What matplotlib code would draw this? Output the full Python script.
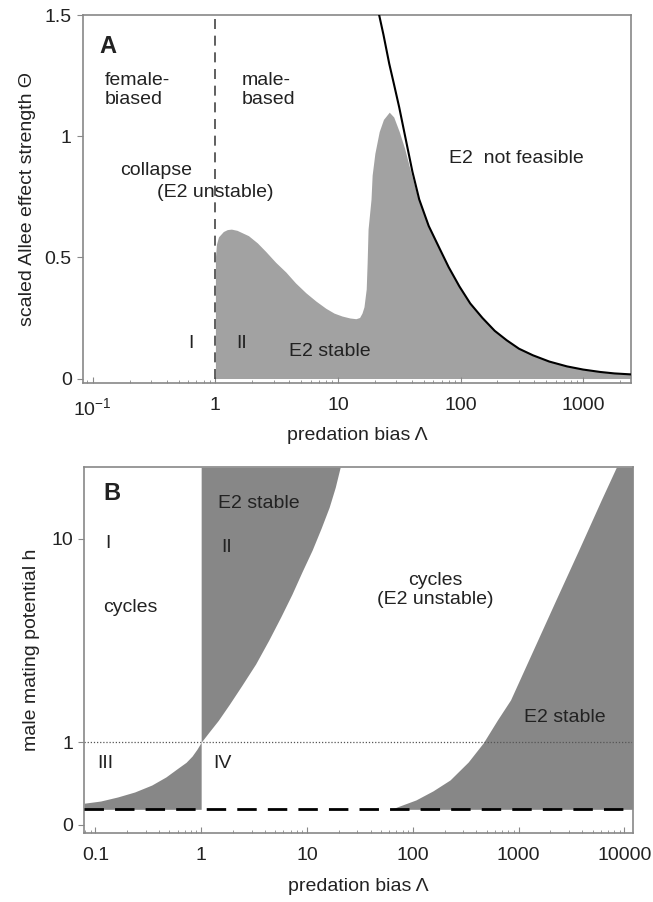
import numpy as np
import matplotlib
matplotlib.use('Agg')
import matplotlib.pyplot as plt

plt.rcParams['font.family'] = ['Liberation Sans', 'DejaVu Sans']
plt.rcParams['mathtext.fontset'] = 'custom'
plt.rcParams['mathtext.rm'] = 'Liberation Sans'
plt.rcParams['font.size'] = 14

# ---- panel A data ----
# upper edge of the "E2 stable" region (hump part)
hump_lam = [1.0, 1.02, 1.06, 1.16, 1.25, 1.35, 1.5, 1.86, 2.2, 2.57, 3.1, 3.75,
            4.5, 5.47, 6.6, 7.96, 9.3, 10.8, 12.5, 14.0, 15.0, 15.7, 16.3,
            17.0, 17.3, 17.6, 18.6, 19.0, 20.0, 21.7, 23.5, 26.2, 28.5, 31.6,
            35.0, 38.0, 42.0, 45.0]
hump_val = [0.50, 0.555, 0.585, 0.607, 0.615, 0.617, 0.612, 0.59, 0.56, 0.525,
            0.48, 0.44, 0.395, 0.354, 0.32, 0.29, 0.27, 0.258, 0.25, 0.247,
            0.252, 0.27, 0.296, 0.37, 0.48, 0.617, 0.74, 0.84, 0.93, 1.02,
            1.07, 1.10, 1.08, 1.02, 0.95, 0.88, 0.80, 0.745]
# feasibility limit (black curve)
feas_lam = [21.7, 23.5, 26.2, 28.5, 31.6, 35.0, 40.5, 46.0, 50.7, 55.0, 67.0,
            80.0, 98.0, 120.0, 151.0, 190.0, 238.0, 300.0, 389.0, 530.0,
            739.0, 1000.0, 1380.0, 1800.0, 2450.0]
feas_val = [1.5, 1.42, 1.30, 1.22, 1.12, 1.01, 0.854, 0.74, 0.68, 0.63, 0.54,
            0.46, 0.38, 0.31, 0.25, 0.197, 0.158, 0.123, 0.096, 0.07,
            0.05, 0.037, 0.027, 0.021, 0.017]

# ---- panel B data ----
h_min = 0.14          # dashed line
# boundary for Lambda < 1 (region III)
left_lam = [0.0785, 0.112, 0.162, 0.235, 0.341, 0.464, 0.604, 0.72, 0.82,
            0.916, 1.0]
left_h = [0.20, 0.222, 0.264, 0.318, 0.397, 0.495, 0.61, 0.69, 0.78,
          0.89, 1.0]
# boundary for Lambda > 1 (region II)
mid_lam = [1.0, 1.19, 1.45, 1.85, 2.4, 3.27, 4.35, 5.65, 7.2, 8.96, 11.2,
           13.6, 16.2, 18.5, 20.6]
mid_h = [1.0, 1.18, 1.40, 1.75, 2.2, 2.85, 3.7, 4.71, 5.9, 7.32, 9.0,
         11.0, 13.3, 15.9, 19.0]
# right boundary (E2 stable at high bias)
right_lam = [60.0, 68.0, 75.0, 107.0, 155.0, 225.0, 334.0, 464.0, 631.0,
             839.0, 1374.0, 2250.0, 3700.0, 6040.0, 8390.0]
right_h = [0.14, 0.155, 0.172, 0.233, 0.33, 0.458, 0.694, 0.99, 1.41,
           1.85, 3.33, 5.58, 9.0, 14.2, 19.0]

txt = '#222222'
spine_c = '#888888'

fig = plt.figure(figsize=(6.53, 9.02), dpi=100)
axA = fig.add_axes([0.127, 0.575, 0.839, 0.408])
axB = fig.add_axes([0.129, 0.0765, 0.840, 0.4055])

# ================= panel A =================
axA.set_xscale('log')
xa0, xa1 = 0.083, 2450
axA.set_xlim(xa0, xa1)
axA.set_ylim(-0.02, 1.5)

fx = list(hump_lam) + [l for l in feas_lam if l > hump_lam[-1]]
fy = list(hump_val) + [v for l, v in zip(feas_lam, feas_val) if l > hump_lam[-1]]
axA.fill_between(fx, 0, fy, color='#a2a2a2', lw=0, zorder=1)
axA.plot(feas_lam, feas_val, color='black', lw=1.5, zorder=3)
axA.plot([1, 1], [0, 1.5], color='#444444', lw=1.2, dashes=(6, 4), zorder=2)

axA.set_xticks([0.1, 1, 10, 100, 1000])
axA.set_xticklabels([r'$\mathregular{10^{-1}}$', '1', '10', '100', '1000'])
axA.set_yticks([0, 0.5, 1, 1.5])
axA.set_yticklabels(['0', '0.5', '1', '1.5'])
axA.set_xlabel('predation bias Λ', labelpad=6, color=txt)
axA.set_ylabel('scaled Allee effect strength Θ', labelpad=6, color=txt)

axA.text(0.114, 1.37, 'A', fontweight='bold', fontsize=17, va='center', color=txt)
axA.text(0.126, 1.19, 'female-\nbiased', va='center', color=txt, linespacing=1.15)
axA.text(1.63, 1.19, 'male-\nbased', va='center', color=txt, linespacing=1.15)
axA.text(0.328, 0.86, 'collapse', ha='center', va='center', color=txt)
axA.text(1.0, 0.77, '(E2 unstable)', ha='center', va='center', color=txt)
axA.text(0.636, 0.146, 'I', ha='center', va='center', color=txt)
axA.text(1.63, 0.146, 'II', ha='center', va='center', color=txt)
axA.text(3.97, 0.11, 'E2 stable', ha='left', va='center', color=txt)
axA.text(288, 0.91, 'E2  not feasible', ha='center', va='center', color=txt)

# ================= panel B =================
axB.set_xscale('log')
axB.set_yscale('function', functions=(lambda h: np.log10(1 + h),
                                      lambda y: 10 ** y - 1))
xb0, xb1 = 0.0785, 12000
hb0, hb1 = -0.065, 19.0
axB.set_xlim(xb0, xb1)
axB.set_ylim(hb0, hb1)

gB = '#878787'
axB.fill_between(left_lam, h_min, left_h, color=gB, lw=0, zorder=1)
axB.fill_between(mid_lam, mid_h, hb1, color=gB, lw=0, zorder=1)
axB.fill_between(right_lam + [xb1], h_min, right_h + [hb1], color=gB, lw=0, zorder=1)
axB.axhline(1, color='#555555', lw=0.9, ls=(0, (1, 1.5)), zorder=2)
axB.axhline(h_min, color='black', lw=2, dashes=(7, 4), zorder=3)

axB.set_xticks([0.1, 1, 10, 100, 1000, 10000])
axB.set_xticklabels(['0.1', '1', '10', '100', '1000', '10000'])
axB.set_yticks([0, 1, 10])
axB.set_yticklabels(['0', '1', '10'])
axB.set_xlabel('predation bias Λ', labelpad=10, color=txt)
axB.set_ylabel('male mating potential h', labelpad=8, color=txt)

axB.text(0.119, 15.1, 'B', fontweight='bold', fontsize=17, va='center', color=txt)
axB.text(1.45, 13.8, 'E2 stable', va='center', color=txt)
axB.text(0.125, 9.6, 'I', va='center', color=txt)
axB.text(1.55, 9.2, 'II', va='center', color=txt)
axB.text(0.119, 5.2, 'cycles', va='center', color=txt)
axB.text(162, 6.16, 'cycles\n(E2 unstable)', ha='center', va='center',
         color=txt, linespacing=1.1)
axB.text(1116, 1.45, 'E2 stable', va='center', color=txt)
axB.text(0.105, 0.68, 'III', va='center', color=txt)
axB.text(1.3, 0.68, 'IV', va='center', color=txt)

for ax in (axA, axB):
    for s in ax.spines.values():
        s.set_color(spine_c)
        s.set_linewidth(1.2)
    ax.tick_params(axis='x', which='both', direction='in', top=False,
                   colors=spine_c, labelcolor=txt, pad=10)
    ax.tick_params(axis='x', which='major', length=4)
    ax.tick_params(axis='x', which='minor', length=2.5)
    ax.tick_params(axis='y', direction='out', length=4, colors=spine_c,
                   labelcolor=txt, pad=4)
    ax.yaxis.set_minor_locator(matplotlib.ticker.NullLocator())

fig.savefig('out.png', dpi=100)
